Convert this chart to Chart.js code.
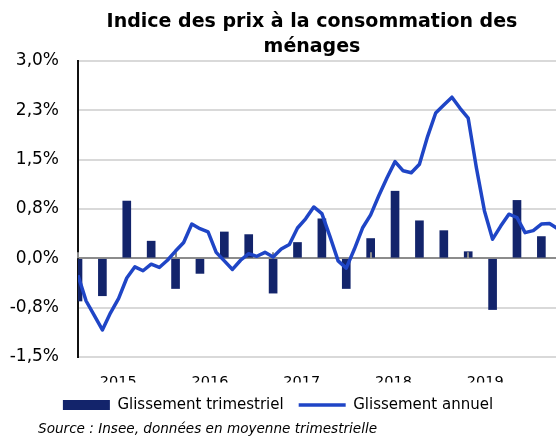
<!DOCTYPE html>
<html><head><meta charset="utf-8">
<script src="https://cdn.jsdelivr.net/npm/chart.js@4"></script>
<style>html,body{margin:0;padding:0;background:#fff}</style>
</head><body>
<canvas id="c" width="556" height="436"></canvas>
<script>
// ---- Data ----
const years = ['2015', '2016', '2017', '2018', '2019'];
const months = [];
years.forEach(y => { for (let m = 1; m <= 12; m++) months.push(y + '-' + String(m).padStart(2, '0')); });
const quarters = months.filter(m => ['01', '04', '07', '10'].includes(m.slice(5)));

// Glissement annuel (monthly, %)
const annual = [
  -0.26, -0.65, -0.87, -1.09, -0.83, -0.61, -0.30, -0.13, -0.19, -0.09, -0.14, -0.03,
   0.11,  0.24,  0.52,  0.45,  0.40,  0.09, -0.04, -0.17, -0.03,  0.07,  0.03,  0.09,
   0.02,  0.14,  0.21,  0.46,  0.60,  0.78,  0.68,  0.33, -0.04, -0.15,  0.14,  0.46,
   0.66,  0.95,  1.22,  1.47,  1.33,  1.30,  1.43,  1.85,  2.21,  2.33,  2.45,  2.28,
   2.13,  1.38,  0.72,  0.29,  0.49,  0.67,  0.62,  0.39,  0.42,  0.52,  0.53,  0.45
];
// Glissement trimestriel (quarterly, %)
const quarterly = [
  -0.65, -0.57, 0.87, 0.26, -0.46, -0.23, 0.40, 0.36, -0.53, 0.24,
   0.60, -0.46, 0.30, 1.02, 0.57, 0.42, 0.10, -0.78, 0.88, 0.33
];
const yTicks = [-1.5, -0.75, 0, 0.75, 1.5, 2.25, 3.0];
const titleLines = ['Indice des prix à la consommation des', 'ménages'];
const seriesLabels = ['Glissement trimestriel', 'Glissement annuel'];
const sourceText = 'Source : Insee, données en moyenne trimestrielle';

// ---- Styles ----
const barColor = '#13246b';
const lineColor = '#1f45c6';
Chart.defaults.font.family = "'DejaVu Sans', sans-serif";
Chart.defaults.color = '#000';

const yearTickMarks = {
  id: 'yearTickMarks',
  afterDatasetDraw(chart, args) {
    if (args.index !== 0) return;
    const xs = chart.scales.x, ys = chart.scales.y, ctx = chart.ctx;
    const y0 = ys.getPixelForValue(0);
    ctx.save();
    ctx.strokeStyle = '#8c8c8c';
    ctx.lineWidth = 2;
    months.forEach((m, i) => {
      if (m.endsWith('-01')) {
        const px = Math.round(xs.getPixelForValue(i));
        ctx.beginPath(); ctx.moveTo(px, y0); ctx.lineTo(px, y0 - 6); ctx.stroke();
      }
    });
    ctx.restore();
  }
};

const placeText = {
  id: 'placeText',
  afterLayout(chart) {
    const a = chart.chartArea;
    if (chart.titleBlock) chart.titleBlock.left = a.left - 10;
    const src = chart.boxes.find(b => b.options && b.options.text === sourceText);
    if (src) src.left = a.left - 40;
  }
};

new Chart(document.getElementById('c'), {
  type: 'bar',
  data: {
    datasets: [
      {
        type: 'bar',
        label: seriesLabels[0],
        data: quarterly.map((v, k) => ({ x: months.indexOf(quarters[k]), y: v })),
        backgroundColor: barColor,
        borderWidth: 0,
        barThickness: 8,
        order: 1,
        clip: 0,
        pointStyle: 'rect',
        xAxisID: 'x', yAxisID: 'y'
      },
      {
        type: 'line',
        label: seriesLabels[1],
        data: annual.map((v, i) => ({ x: i, y: v })),
        borderColor: lineColor,
        backgroundColor: lineColor,
        borderWidth: 3.5,
        pointBorderWidth: 3.5,
        pointRadius: 0,
        pointHoverRadius: 0,
        tension: 0,
        borderJoinStyle: 'round',
        order: 0,
        pointStyle: 'line',
        xAxisID: 'x', yAxisID: 'y'
      }
    ]
  },
  options: {
    responsive: false,
    animation: false,
    devicePixelRatio: 1,
    layout: { padding: 0 },
    scales: {
      x: { type: 'linear', min: 0, max: 58.8, display: false, offset: false },
      xYears: {
        axis: 'x', type: 'linear', position: 'bottom', min: 2014.561, max: 2019.771, offset: false,
        afterBuildTicks: s => { s.ticks = years.map(y => ({ value: +y })); },
        ticks: { callback: v => String(v), font: { size: 14.5, lineHeight: 1.2 }, padding: 16.3, maxRotation: 0, autoSkip: false },
        grid: { display: false, drawTicks: false },
        border: { display: false },
        afterFit: s => { s.height = 25.5; }
      },
      y: {
        type: 'linear', min: -1.5, max: 3,
        afterBuildTicks: s => { s.ticks = yTicks.map(v => ({ value: v })); },
        ticks: { callback: v => v.toFixed(1).replace('.', ',') + '%', font: { size: 17 }, padding: 19 },
        grid: { color: c => (c.tick && c.tick.value === 0) ? '#8c8c8c' : '#d9d9d9', lineWidth: 2, drawTicks: false },
        border: { color: '#111', width: 2 },
        afterFit: s => { s.width = 78; }
      }
    },
    plugins: {
      title: {
        display: true, text: titleLines, color: '#000',
        font: { size: 19, weight: 'bold', lineHeight: 1.3 },
        padding: { top: 10, bottom: 1.6 }
      },
      subtitle: {
        display: true, position: 'bottom', align: 'start', text: sourceText, color: '#000',
        font: { size: 13.6, style: 'italic', lineHeight: 1 },
        padding: { top: 0, bottom: 0 }
      },
      legend: {
        position: 'bottom', reverse: true,
        labels: { usePointStyle: true, pointStyleWidth: 47, boxHeight: 10, padding: 15, font: { size: 15 }, color: '#000' }
      },
      tooltip: { enabled: false }
    }
  },
  plugins: [yearTickMarks, placeText]
});
</script>
</body></html>
